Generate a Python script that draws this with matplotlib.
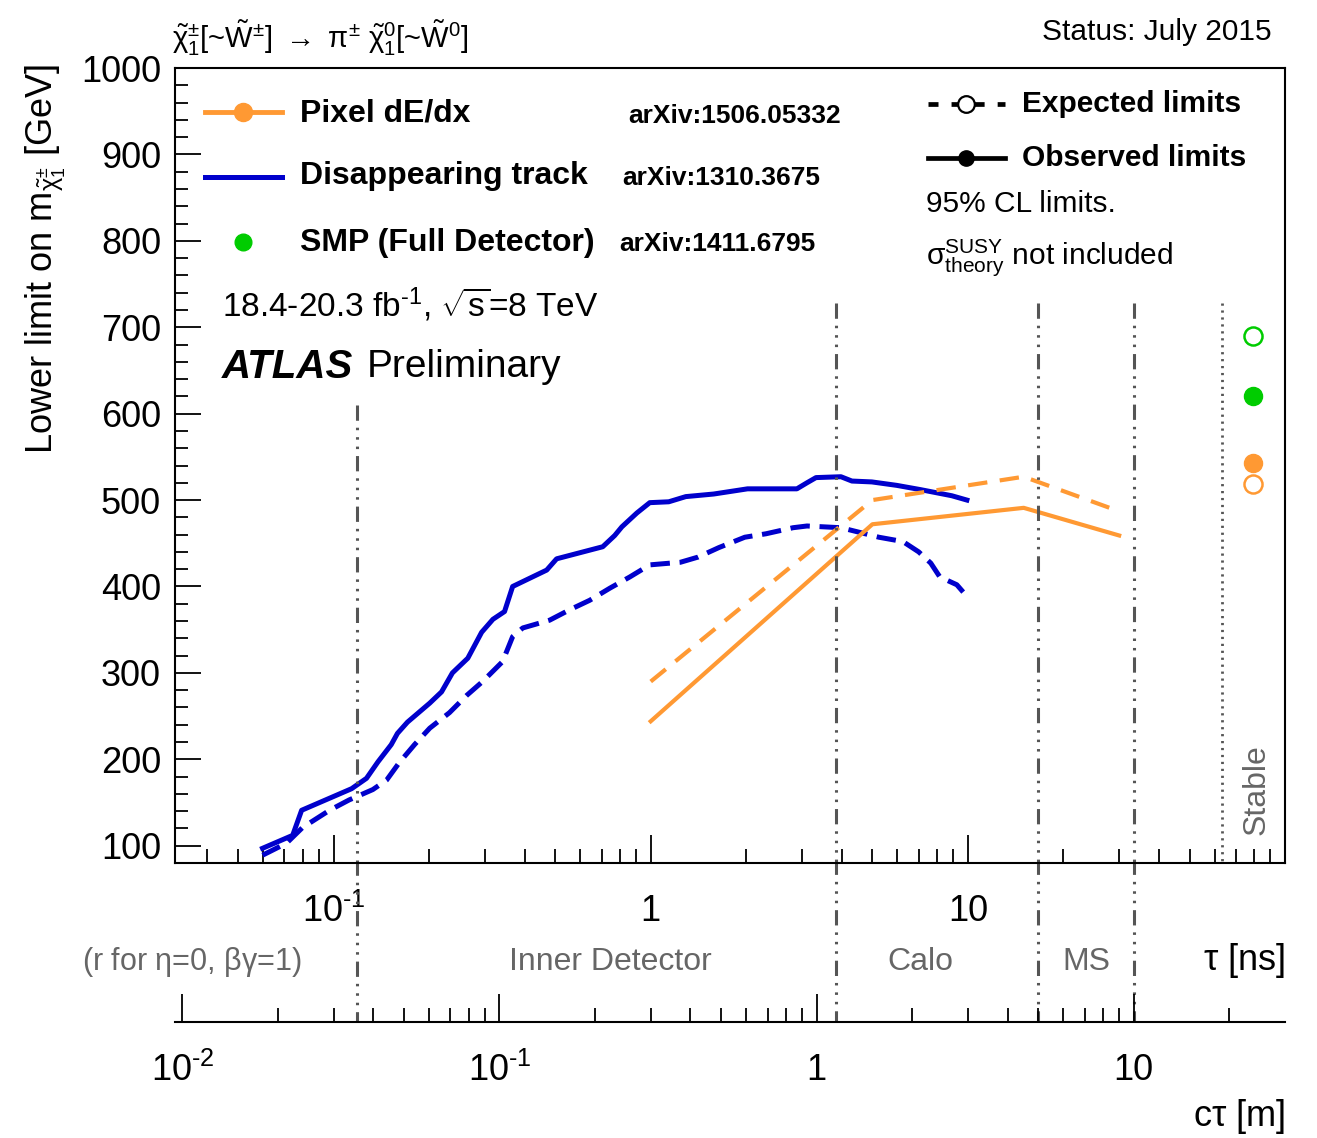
import matplotlib
matplotlib.use("Agg")
import matplotlib.pyplot as plt
import matplotlib.transforms as mtransforms
from matplotlib.ticker import FixedLocator, MultipleLocator, LogLocator, NullFormatter

plt.rcParams['font.family'] = ['Liberation Sans', 'DejaVu Sans']
plt.rcParams['mathtext.fontset'] = 'custom'
plt.rcParams['mathtext.rm'] = 'Liberation Sans'
plt.rcParams['mathtext.it'] = 'Liberation Sans:italic'
plt.rcParams['mathtext.bf'] = 'Liberation Sans:bold'
plt.rcParams['mathtext.default'] = 'regular'
plt.rcParams['lines.scale_dashes'] = False

# ---------------- data ----------------
# Disappearing track (observed / expected): lifetime tau [ns] vs mass limit [GeV]
dt_obs_tau = [0.0597, 0.0743, 0.0793, 0.0986, 0.114, 0.127, 0.138, 0.152, 0.159, 0.171,
              0.201, 0.219, 0.237, 0.265, 0.293, 0.318, 0.346, 0.367, 0.470, 0.505,
              0.706, 0.770, 0.811, 0.904, 0.993, 1.14, 1.29, 1.58, 2.02, 2.89,
              3.11, 3.32, 3.98, 4.31, 4.98, 5.97, 7.11, 8.90, 9.93]
dt_obs_m = [97, 112, 141, 156, 166, 178, 197, 217, 230, 243,
            265, 278, 300, 317, 347, 362, 371, 400, 419, 432,
            446, 459, 469, 485, 497, 498, 504, 507, 513, 513,
            520, 526, 527, 522, 521, 517, 512, 505, 500]

dt_exp_tau = [0.0597, 0.0711, 0.0798, 0.0971, 0.112, 0.133, 0.147, 0.161, 0.180, 0.201,
              0.232, 0.263, 0.295, 0.341, 0.367, 0.395, 0.480, 0.555, 0.642, 0.743,
              0.859, 0.993, 1.24, 1.41, 1.64, 1.98, 2.31, 2.81, 3.11, 3.98,
              4.63, 5.24, 6.24, 7.00, 7.64, 8.16, 9.23, 10.07]
dt_exp_m = [89, 103, 121, 141, 153, 165, 176, 196, 217, 236,
            254, 274, 290, 313, 342, 352, 361, 373, 384, 398,
            411, 425, 428, 434, 445, 457, 461, 468, 470, 468,
            462, 457, 452, 440, 427, 411, 402, 386]

# Pixel dE/dx
pix_tau = [1, 5, 15, 30]
pix_obs = [244, 472, 491, 459]
pix_exp = [290, 500, 527, 487]

# Stable limits (plotted at the right edge)
stable_tau = 79
smp_obs, smp_exp = 620, 690
pix_stable_obs, pix_stable_exp = 543, 519

# detector region boundaries in c*tau [m]
region_ctau = [0.0355, 1.15, 5.0, 10.0]
stable_ctau = 19.0
c_m_per_ns = 0.29979

# tick labels
tau_ticks = [0.1, 1, 10]
tau_labels = [r'$10^{\text{-}1}$', '1', '10']
ctau_ticks = [0.01, 0.1, 1, 10]
ctau_labels = [r'$10^{\text{-}2}$', r'$10^{\text{-}1}$', '1', '10']

BLUE = '#0000CC'
ORANGE = '#FF9933'
GREEN = '#00CC00'
GREYLINE = '#555555'
GREYTXT = '#666666'

W, H = 1317, 1138
fig = plt.figure(figsize=(W / 100, H / 100), dpi=100)

def fxf(px):
    return px / W

def fyf(py):
    return 1 - py / H

AX_L, AX_R, AX_T, AX_B = 175, 1285, 68, 863
ax = fig.add_axes([fxf(AX_L), fyf(AX_B), (AX_R - AX_L) / W, (AX_B - AX_T) / H])
ax.set_xscale('log')
ax.set_xlim(10 ** -1.5, 100)
ax.set_ylim(80, 1000)

def ax_x(px):
    return (px - AX_L) / (AX_R - AX_L)

def ax_y(py):
    return (AX_B - py) / (AX_B - AX_T)

# curves
ax.plot(dt_obs_tau, dt_obs_m, color=BLUE, lw=3.6, solid_joinstyle='round')
ax.plot(dt_exp_tau, dt_exp_m, color=BLUE, lw=3.6, linestyle=(0, (14, 7)))
ax.plot(pix_tau, pix_obs, color=ORANGE, lw=3.0)
ax.plot(pix_tau, pix_exp, color=ORANGE, lw=3.0, linestyle=(0, (14, 9)))

ax.plot([stable_tau], [smp_exp], 'o', ms=13, mfc='white', mec=GREEN, mew=1.8)
ax.plot([stable_tau], [smp_obs], 'o', ms=13, mfc=GREEN, mec=GREEN)
ax.plot([stable_tau], [pix_stable_obs], 'o', ms=13, mfc=ORANGE, mec=ORANGE)
ax.plot([stable_tau], [pix_stable_exp], 'o', ms=13, mfc='white', mec=ORANGE, mew=1.8)

# axes styling
for s in ax.spines.values():
    s.set_linewidth(1.5)
ax.xaxis.set_major_locator(FixedLocator(tau_ticks))
ax.set_xticklabels(tau_labels)
ax.xaxis.set_minor_locator(LogLocator(base=10, subs=range(2, 10), numticks=20))
ax.xaxis.set_minor_formatter(NullFormatter())
ax.yaxis.set_major_locator(MultipleLocator(100))
ax.yaxis.set_minor_locator(MultipleLocator(20))
ax.tick_params(axis='x', which='major', direction='in', length=20, width=1.3,
               labelsize=26, pad=22, top=False)
ax.tick_params(axis='x', which='minor', direction='in', length=10, width=1.3, top=False)
ax.tick_params(axis='y', which='major', direction='in', length=19, width=1.3,
               labelsize=26, pad=10, right=False)
ax.tick_params(axis='y', which='minor', direction='in', length=9.5, width=1.3, right=False)
ax.set_yticks([100, 200, 300, 400, 500, 600, 700, 800, 900, 1000])

# lower c*tau axis
ax2 = fig.add_axes([fxf(AX_L), fyf(1022), (AX_R - AX_L) / W, 0.04])
ax2.set_xscale('log')
ax2.set_xlim(c_m_per_ns * 10 ** -1.5, c_m_per_ns * 100)
ax2.patch.set_visible(False)
for k in ['top', 'left', 'right']:
    ax2.spines[k].set_visible(False)
ax2.spines['bottom'].set_linewidth(1.5)
ax2.set_yticks([])
ax2.xaxis.set_major_locator(FixedLocator(ctau_ticks))
ax2.set_xticklabels(ctau_labels)
ax2.xaxis.set_minor_locator(LogLocator(base=10, subs=range(2, 10), numticks=20))
ax2.xaxis.set_minor_formatter(NullFormatter())
ax2.tick_params(axis='x', which='major', direction='in', length=20, width=1.3,
                labelsize=26, pad=22)
ax2.tick_params(axis='x', which='minor', direction='in', length=10, width=1.3)

# detector region boundaries
blend = mtransforms.blended_transform_factory(ax.transData, fig.transFigure)
dashdot = (0, (11, 5, 1.8, 5, 1.8, 5, 1.8, 5))
tops = [405, 303, 303, 303]
for ct, top in zip(region_ctau, tops):
    t = ct / c_m_per_ns
    ax.plot([t, t], [fyf(top), fyf(1022)], transform=blend, clip_on=False,
            color=GREYLINE, lw=2.2, linestyle=dashdot)
ts = stable_ctau / c_m_per_ns
ax.plot([ts, ts], [fyf(303), fyf(AX_B)], transform=blend, clip_on=False,
        color=GREYLINE, lw=2.0, linestyle=(0, (1.6, 3.4)))

# region labels
fig.text(fxf(192), fyf(962), r'(r for $\eta$=0, $\beta\gamma$=1)', color=GREYTXT,
         fontsize=22, ha='center', va='center')
fig.text(fxf(610), fyf(962), 'Inner Detector', color=GREYTXT, fontsize=23,
         ha='center', va='center')
fig.text(fxf(920), fyf(962), 'Calo', color=GREYTXT, fontsize=23, ha='center', va='center')
fig.text(fxf(1086), fyf(962), 'MS', color=GREYTXT, fontsize=23, ha='center', va='center')
fig.text(fxf(1285), fyf(960), r'$\tau$ [ns]', fontsize=26, ha='right', va='center')
fig.text(fxf(1285), fyf(1117), r'c$\tau$ [m]', fontsize=26, ha='right', va='center')
ax.text(ax_x(1257), ax_y(835), 'Stable', color=GREYTXT, fontsize=23, rotation=90,
        ha='center', va='bottom', transform=ax.transAxes)

# y label, title, status
fig.text(fxf(45), fyf(64), r'Lower limit on m$_{\tilde{\chi}^{\pm}_{1}}$ [GeV]',
         fontsize=26, rotation=90, ha='center', va='top')
fig.text(fxf(172), fyf(38),
         r'$\tilde{\chi}^{\pm}_{1}$[~$\tilde{W}^{\pm}$] $\rightarrow$ $\pi^{\pm}$ $\tilde{\chi}^{0}_{1}$[~$\tilde{W}^{0}$]',
         fontsize=21, ha='left', va='center')
fig.text(fxf(1272), fyf(32), 'Status: July 2015', fontsize=21.5, ha='right', va='center')

# left legend
T = ax.transAxes
ax.plot([ax_x(205), ax_x(282)], [ax_y(112)] * 2, color=ORANGE, lw=3.5, transform=T, clip_on=False)
ax.plot([ax_x(243)], [ax_y(112)], 'o', ms=13, color=ORANGE, transform=T, clip_on=False)
ax.plot([ax_x(205), ax_x(282)], [ax_y(177)] * 2, color=BLUE, lw=3.6, transform=T, clip_on=False)
ax.plot([ax_x(243)], [ax_y(242)], 'o', ms=12, color=GREEN, transform=T, clip_on=False)
for txt, yy in [('Pixel dE/dx', 114), ('Disappearing track', 176), ('SMP (Full Detector)', 243)]:
    ax.text(ax_x(300), ax_y(yy), txt, fontsize=23, fontweight='bold', ha='left', va='center',
            transform=T)
for txt, xx, yy in [('arXiv:1506.05332', 628, 116), ('arXiv:1310.3675', 622, 178),
                    ('arXiv:1411.6795', 619, 244)]:
    ax.text(ax_x(xx), ax_y(yy), txt, fontsize=19, fontweight='bold', ha='left', va='center',
            transform=T)
ax.text(ax_x(222), ax_y(305), r'18.4-20.3 fb$^{\text{-}1}$, $\sqrt{s}$=8 TeV', fontsize=24,
        ha='left', va='center', transform=T)
ax.text(ax_x(222), ax_y(367), 'ATLAS', fontsize=29, fontweight='bold', style='italic',
        ha='left', va='center', transform=T)
ax.text(ax_x(367), ax_y(367), 'Preliminary', fontsize=28, ha='left', va='center', transform=T)

# right legend
ax.plot([ax_x(928), ax_x(1005)], [ax_y(104)] * 2, color='black', lw=3.4,
        linestyle=(0, (7.2, 9.4)), transform=T, clip_on=False)
ax.plot([ax_x(966)], [ax_y(104)], 'o', ms=12, mfc='white', mec='black', mew=1.6,
        transform=T, clip_on=False)
ax.plot([ax_x(928), ax_x(1005)], [ax_y(158)] * 2, color='black', lw=3.4, transform=T,
        clip_on=False)
ax.plot([ax_x(966)], [ax_y(158)], 'o', ms=11, color='black', transform=T, clip_on=False)
ax.text(ax_x(1022), ax_y(104), 'Expected limits', fontsize=21.5, fontweight='bold',
        ha='left', va='center', transform=T)
ax.text(ax_x(1022), ax_y(158), 'Observed limits', fontsize=21.5, fontweight='bold',
        ha='left', va='center', transform=T)
ax.text(ax_x(926), ax_y(204), '95% CL limits.', fontsize=21.5, ha='left', va='center',
        transform=T)
ax.text(ax_x(926), ax_y(258), r'$\sigma^{SUSY}_{theory}$ not included', fontsize=21.5,
        ha='left', va='center', transform=T)

fig.savefig('out.png', dpi=100)
